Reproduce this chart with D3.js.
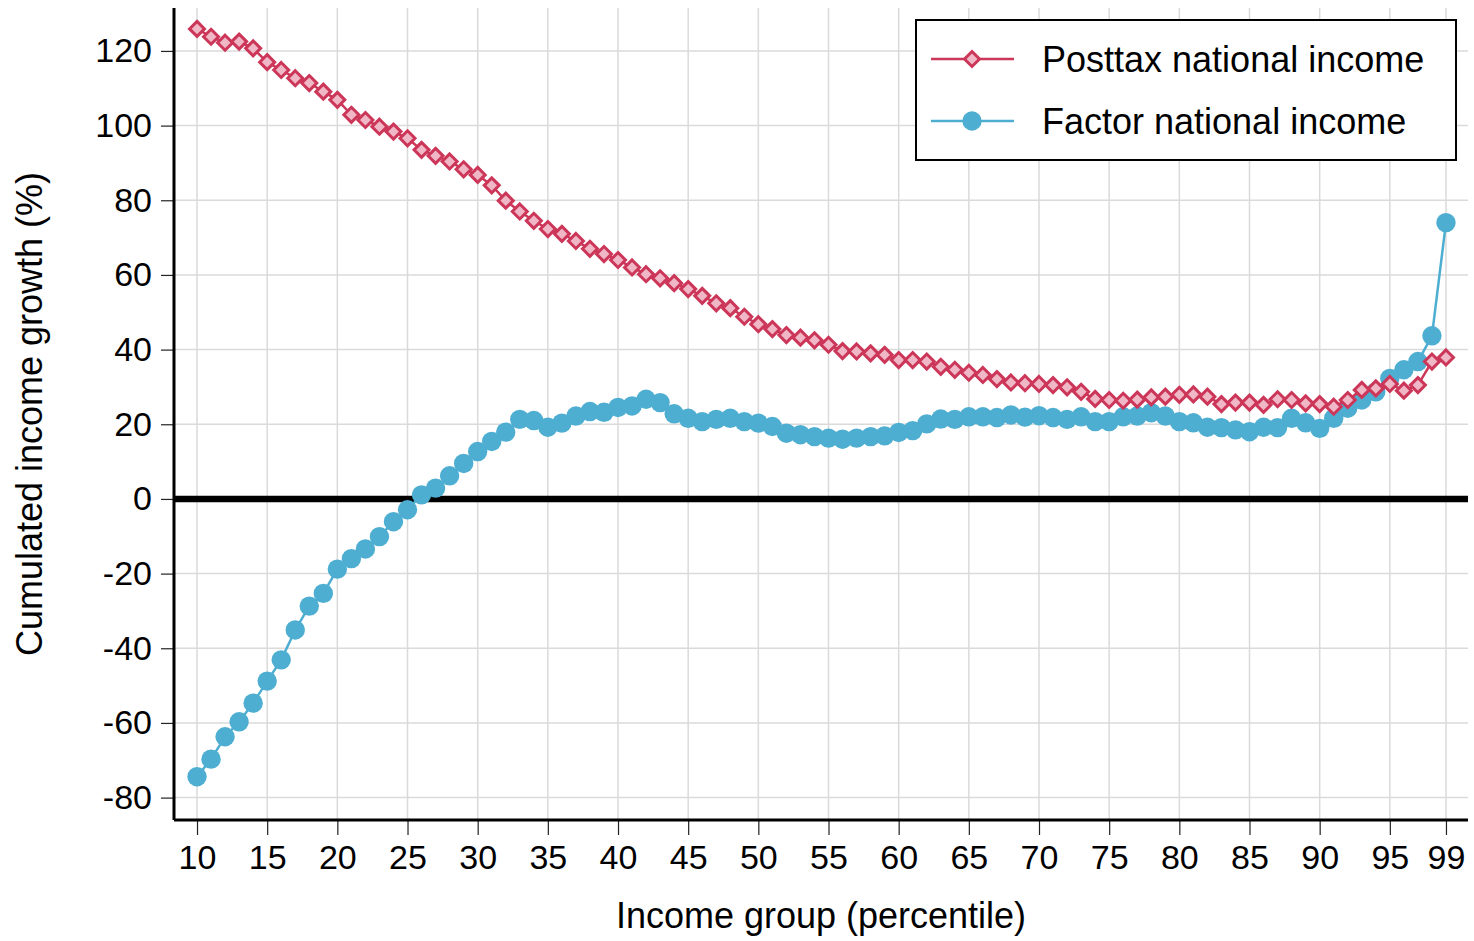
<!DOCTYPE html>
<html>
<head>
<meta charset="utf-8">
<script src="https://cdn.jsdelivr.net/npm/d3@7"></script>
<style>
  body { margin: 0; background: #fff; }
  text { font-family: "Liberation Sans", Arial, sans-serif; }
</style>
</head>
<body>
<div id="chart"></div>
<script>
var posttaxColor = '#cc3659'
var posttaxFill = '#f0b7c6'
var factorColor = '#4daed1'

var percentiles = [
  10, 11, 12, 13, 14, 15, 16, 17, 18, 19,
  20, 21, 22, 23, 24, 25, 26, 27, 28, 29,
  30, 31, 32, 33, 34, 35, 36, 37, 38, 39,
  40, 41, 42, 43, 44, 45, 46, 47, 48, 49,
  50, 51, 52, 53, 54, 55, 56, 57, 58, 59,
  60, 61, 62, 63, 64, 65, 66, 67, 68, 69,
  70, 71, 72, 73, 74, 75, 76, 77, 78, 79,
  80, 81, 82, 83, 84, 85, 86, 87, 88, 89,
  90, 91, 92, 93, 94, 95, 96, 97, 98, 99
]

var posttax = [
  125.9, 123.8, 122.2, 122.5, 120.7, 117.0, 114.9, 112.7, 111.4, 109.1,
  106.9, 102.9, 101.5, 99.7, 98.4, 96.6, 93.5, 91.9, 90.4, 88.3,
  86.8, 84.0, 79.9, 77.0, 74.5, 72.3, 71.0, 69.1, 67.0, 65.6,
  64.0, 62.0, 60.2, 59.1, 57.8, 56.2, 54.4, 52.4, 51.1, 48.8,
  46.8, 45.5, 43.9, 43.2, 42.5, 41.3, 39.6, 39.5, 39.0, 38.6,
  37.2, 37.2, 36.8, 35.4, 34.6, 33.8, 33.2, 32.1, 31.2, 31.0,
  30.8, 30.5, 29.9, 28.7, 26.8, 26.5, 26.3, 26.6, 27.2, 27.4,
  27.9, 28.0, 27.4, 25.4, 25.8, 25.8, 25.2, 26.7, 26.5, 25.6,
  25.4, 24.7, 26.5, 29.2, 29.6, 30.8, 29.0, 30.5, 36.8, 37.9
]

var factor = [
  -74.4, -69.7, -63.7, -59.7, -54.7, -48.8, -43.1, -35.1, -28.7, -25.3,
  -18.8, -16.0, -13.4, -10.1, -6.1, -2.9, 1.1, 2.9, 6.2, 9.5,
  12.7, 15.4, 17.9, 21.3, 21.0, 19.2, 20.3, 22.2, 23.4, 23.2,
  24.5, 24.9, 26.7, 25.8, 22.8, 21.6, 20.7, 21.3, 21.6, 20.7,
  20.3, 19.4, 17.6, 17.2, 16.7, 16.3, 16.0, 16.3, 16.7, 16.9,
  17.8, 18.3, 20.1, 21.4, 21.3, 22.0, 22.0, 21.8, 22.5, 21.9,
  22.3, 21.8, 21.3, 22.0, 20.7, 20.7, 22.0, 22.2, 23.1, 22.2,
  20.7, 20.4, 19.2, 19.1, 18.5, 18.0, 19.2, 19.1, 21.6, 20.4,
  18.9, 21.6, 24.3, 26.5, 28.7, 32.3, 34.6, 36.8, 43.7, 74.0
]

var xTicks = [10, 15, 20, 25, 30, 35, 40, 45, 50, 55, 60, 65, 70, 75, 80, 85, 90, 95, 99]
var yTicks = [-80, -60, -40, -20, 0, 20, 40, 60, 80, 100, 120]

var seriesNames = ['Posttax national income', 'Factor national income']

var chartWidth = 1474
var chartHeight = 941
var margin = { left: 174, right: 6, top: 8, bottom: 121 }
var width = chartWidth - margin.left - margin.right
var height = chartHeight - margin.top - margin.bottom

var svg = d3.select('#chart')
  .append('svg')
  .attr('width', chartWidth)
  .attr('height', chartHeight)

var g = svg.append('g')
  .attr('transform', 'translate(' + margin.left + ',' + margin.top + ')')

var x = d3.scaleLinear().domain([8.36, 100.57]).range([0, width])
var y = d3.scaleLinear().domain([-86, 131.5]).range([height, 0])

// grid
g.append('g').selectAll('line')
  .data(xTicks)
  .enter().append('line')
  .attr('x1', d => x(d)).attr('x2', d => x(d))
  .attr('y1', 0).attr('y2', height)
  .attr('stroke', '#dadada').attr('stroke-width', 1.5)

g.append('g').selectAll('line')
  .data(yTicks)
  .enter().append('line')
  .attr('x1', 0).attr('x2', width)
  .attr('y1', d => y(d)).attr('y2', d => y(d))
  .attr('stroke', '#dadada').attr('stroke-width', 1.5)

// axes
var xAxis = g.append('g')
  .attr('transform', 'translate(0,' + height + ')')
  .call(d3.axisBottom(x).tickValues(xTicks).tickSize(15).tickPadding(10).tickFormat(d => String(d)))
var yAxis = g.append('g')
  .call(d3.axisLeft(y).tickValues(yTicks).tickSize(13).tickPadding(9).tickFormat(d => String(d)))

;[xAxis, yAxis].forEach(function(a) {
  a.select('.domain').remove()
  a.selectAll('line').attr('stroke', '#222').attr('stroke-width', 1.2)
  a.selectAll('text').attr('fill', '#000').style('font-size', '34px')
})

g.append('line')
  .attr('x1', 0).attr('x2', width).attr('y1', height).attr('y2', height)
  .attr('stroke', '#000').attr('stroke-width', 3)
g.append('line')
  .attr('x1', 0).attr('x2', 0).attr('y1', 0).attr('y2', height)
  .attr('stroke', '#000').attr('stroke-width', 3)

// zero line
g.append('line')
  .attr('x1', 0).attr('x2', width).attr('y1', y(0)).attr('y2', y(0))
  .attr('stroke', '#000').attr('stroke-width', 6.5)

// factor series
var line = d3.line()
  .x(function(d, i) { return x(percentiles[i]) })
  .y(function(d) { return y(d) })

g.append('path')
  .datum(factor)
  .attr('d', line)
  .attr('fill', 'none')
  .attr('stroke', factorColor)
  .attr('stroke-width', 2.5)

g.append('g').selectAll('circle')
  .data(factor)
  .enter().append('circle')
  .attr('cx', function(d, i) { return x(percentiles[i]) })
  .attr('cy', function(d) { return y(d) })
  .attr('r', 9.7)
  .attr('fill', factorColor)

// posttax series
g.append('path')
  .datum(posttax)
  .attr('d', line)
  .attr('fill', 'none')
  .attr('stroke', posttaxColor)
  .attr('stroke-width', 2.5)

var diamond = 'M0,-7.5 L7.5,0 L0,7.5 L-7.5,0 Z'
g.append('g').selectAll('path')
  .data(posttax)
  .enter().append('path')
  .attr('d', diamond)
  .attr('transform', function(d, i) { return 'translate(' + x(percentiles[i]) + ',' + y(d) + ')' })
  .attr('fill', posttaxFill)
  .attr('stroke', posttaxColor)
  .attr('stroke-width', 3)

// axis titles
svg.append('text')
  .attr('x', margin.left + width / 2)
  .attr('y', 928)
  .attr('text-anchor', 'middle')
  .style('font-size', '36px')
  .text('Income group (percentile)')

svg.append('text')
  .attr('transform', 'translate(42,' + (margin.top + height / 2) + ') rotate(-90)')
  .attr('text-anchor', 'middle')
  .style('font-size', '36px')
  .text('Cumulated income growth (%)')

// legend
var legend = svg.append('g')
legend.append('rect')
  .attr('x', 916).attr('y', 20)
  .attr('width', 540).attr('height', 140)
  .attr('fill', '#fff')
  .attr('stroke', '#000').attr('stroke-width', 2)

var rows = [59, 121]
rows.forEach(function(ry, i) {
  var col = i === 0 ? posttaxColor : factorColor
  legend.append('line')
    .attr('x1', 931).attr('x2', 1014).attr('y1', ry).attr('y2', ry)
    .attr('stroke', col).attr('stroke-width', 2.5)
  if (i === 0) {
    legend.append('path')
      .attr('d', diamond)
      .attr('transform', 'translate(972,' + ry + ')')
      .attr('fill', posttaxFill).attr('stroke', posttaxColor).attr('stroke-width', 3)
  } else {
    legend.append('circle')
      .attr('cx', 972).attr('cy', ry).attr('r', 9.7)
      .attr('fill', factorColor)
  }
  legend.append('text')
    .attr('x', 1042).attr('y', ry)
    .attr('dy', '0.35em')
    .style('font-size', '36px')
    .text(seriesNames[i])
})
</script>
</body>
</html>
